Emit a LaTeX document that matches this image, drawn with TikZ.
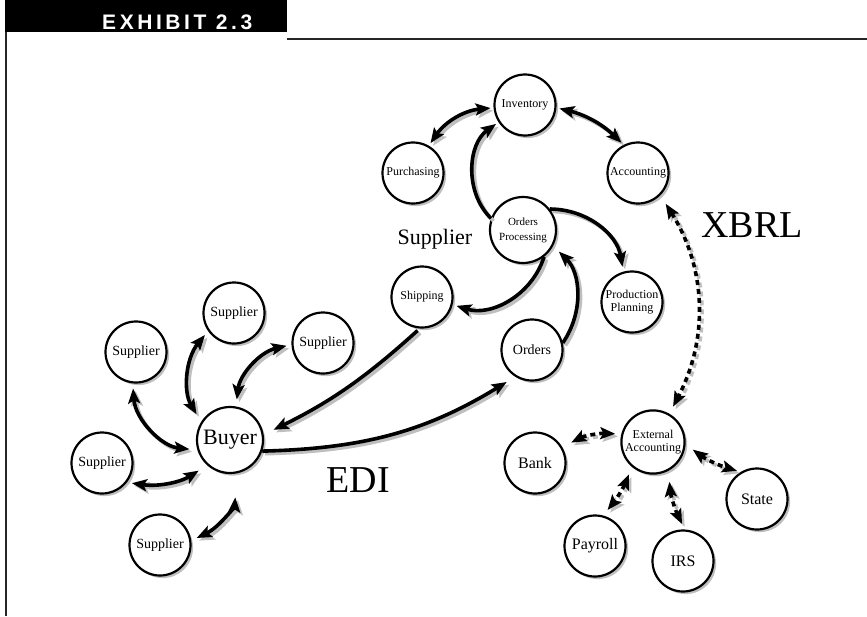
\documentclass[tikz,border=0pt]{standalone}
\usepackage{fontspec}
\setmainfont{Liberation Serif}
\newfontfamily\exhibitfont[LetterSpace=17]{Liberation Sans}
\usepackage{tikz}
\usetikzlibrary{ arrows.meta, shadows, positioning }
\tikzset{
>={Stealth[length=15pt,width=12pt,inset=3pt]}, % makes the arrow heads bold
every node/.style={inner sep=1pt},
unit/.style={circle, draw, line width=2.2pt, fill=white, minimum size=61pt, align=center,
  drop shadow={shadow xshift=2.6pt, shadow yshift=-2.6pt, fill=gray!50, opacity=1}}, % every unit circle
bigunit/.style={unit, minimum size=66pt},
link/.style={line width=3.6pt, shorten >=3pt, shorten <=3pt}, % solid link
xbrl/.style={link, dash pattern=on 5pt off 4pt}, % dashed XBRL link
txtsmall/.style={font=\fontsize{12}{12.5}\selectfont},
txtmid/.style={font=\fontsize{14}{15}\selectfont},
txtbig/.style={font=\fontsize{16}{17}\selectfont},
txtlarge/.style={font=\fontsize{22}{24}\selectfont},
txthuge/.style={font=\fontsize{38}{40}\selectfont},
}

\begin{document}
\begin{tikzpicture}[x=1pt,y=-1pt]%pixel grid, y grows downwards
  \useasboundingbox (0,0) rectangle (867,616);

  % exhibit frame
  \fill[black] (5,0) rectangle (287,32);
  \node[anchor=west, inner sep=0pt, text=white, font=\exhibitfont\bfseries\fontsize{21}{21}\selectfont] (title) at (102,22) {EXHIBIT 2.3};
  \draw[line width=1.8pt, black!85] (287,39) -- (867,39);
  \draw[line width=1.8pt, black!85] (6,32) -- (6,616);

  % supplier side
  \node[unit, txtsmall] (inv) at (525,105) {Inventory};
  \node[unit, txtsmall] (pur) at (413,173) {Purchasing};
  \node[unit, txtsmall] (acc) at (638,173) {Accounting};
  \node[bigunit, font=\fontsize{11}{15}\selectfont] (ordproc) at (523,230) {Orders\\Processing};
  \node[unit, txtsmall] (ship) at (422,297) {Shipping};
  \node[unit, txtsmall] (plan) at (632,302) {Production\\Planning};
  \node[unit, txtmid] (orders) at (532,350) {Orders};
  \node[txtlarge] (suplabel) at (435,239) {Supplier};

  % buyer side
  \node[bigunit, txtlarge] (buyer) at (230,440) {Buyer};
  \node[unit, txtmid] (sup1) at (234,313) {Supplier};
  \node[unit, txtmid] (sup2) at (136,352) {Supplier};
  \node[unit, txtmid] (sup3) at (323,343) {Supplier};
  \node[unit, txtmid] (sup4) at (102,463) {Supplier};
  \node[unit, txtmid] (sup5) at (160,545) {Supplier};

  % external side
  \node[unit, txtsmall] (ext) at (653,442) {External\\Accounting};
  \node[unit, txtbig] (bank) at (535,463) {Bank};
  \node[unit, txtbig] (payroll) at (595,546) {Payroll};
  \node[unit, txtbig] (irs) at (683,561) {IRS};
  \node[unit, txtbig] (state) at (757,499) {State};

  \node[txthuge] (edi) at (358,480) {EDI};
  \node[txthuge] (xbrllabel) at (752,225) {XBRL};

  % links: gray shadow pass first, then the black one
  \foreach \tone/\off in {gray!50/2.6pt, black/0pt}{
  \begin{scope}[transform canvas={xshift=\off, yshift=-\off}, every edge/.append style={draw=\tone}]
  \path
  (pur.60) edge[link, <->, bend left=25] (inv.185)
  (inv.-5) edge[link, <->, bend left=15] (acc.117)
  (ordproc.160) edge[link, ->, bend left=50, shorten <=0pt] (inv.213)
  (ordproc.38) edge[link, ->, bend left=40, shorten <=0pt, shorten >=5pt] (plan.106)
  (ordproc.-52) edge[link, ->, bend left=45, shorten <=0pt, shorten >=4pt] (ship.-14)
  (orders.13) edge[link, ->, bend right=40, shorten <=0pt, shorten >=8pt] (ordproc.-28)
  (ship.266) edge[link, ->, bend left=8, shorten >=11pt] (buyer.9)
  (buyer.-19) edge[link, ->, bend right=15, shorten <=0pt, shorten >=10pt] (orders.238);

  \path
  (buyer.148) edge[link, <->, bend left=35, shorten <=9pt, shorten >=5pt] (sup1.215)
  (buyer.80) edge[link, <->, bend left=35, shorten <=7pt, shorten >=5pt] (sup3.183)
  (buyer.197) edge[link, <->, bend left=40, shorten <=8pt, shorten >=5pt] (sup2.264)
  (buyer.228) edge[link, <->, bend left=20, shorten <=10pt, shorten >=5pt] (sup4.-38)
  (buyer.-78) edge[link, <->, bend left=30, shorten <=24pt, shorten >=6pt] (sup5.8);

  \path
  (acc.-45) edge[xbrl, <->, bend left=30, shorten <=10pt, shorten >=8pt] (ext.60)
  (ext.166) edge[xbrl, <->, bend right=15, shorten <=6pt, shorten >=10pt] (bank.30)
  (ext.230) edge[xbrl, <->, bend left=8, shorten <=8pt, shorten >=7pt] (payroll.75)
  (ext.-62) edge[xbrl, <->, bend right=10, shorten <=11pt, shorten >=6pt] (irs.87)
  (ext.-4) edge[xbrl, <->, bend right=10, shorten <=9pt, shorten >=4pt] (state.121);
  \end{scope}
  }
\end{tikzpicture}
\end{document}
